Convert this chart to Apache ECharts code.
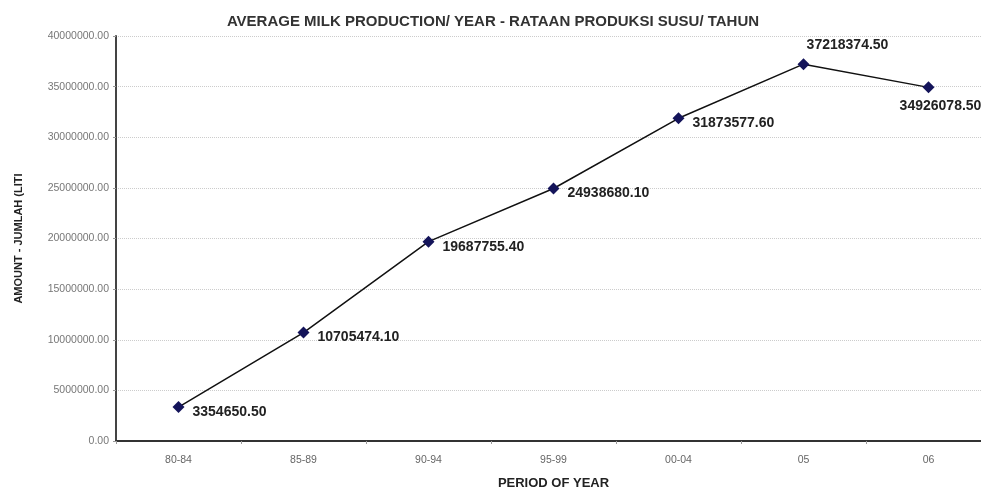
<!DOCTYPE html>
<html>
<head>
<meta charset="utf-8">
<title>Average milk production</title>
<script src="https://cdn.jsdelivr.net/npm/echarts@6/dist/echarts.min.js"></script>
<style>
  html, body { margin: 0; padding: 0; background: #fff; }
</style>
</head>
<body>
<div id="main" style="width:981px;height:491px;"></div>
<script type="text/javascript">
// categories and values
var periods = ['80-84', '85-89', '90-94', '95-99', '00-04', '05', '06'];
var amounts = [3354650.50, 10705474.10, 19687755.40, 24938680.10, 31873577.60, 37218374.50, 34926078.50];

var myChart = echarts.init(document.getElementById('main'));

var labelPos = function (i) {
  if (i === 5) return { position: 'top', offset: [44, 2] };
  if (i === 6) return { position: 'bottom', offset: [12, -2] };
  return { position: 'right', offset: [0, 5] };
};

var seriesData = amounts.map(function (v, i) {
  var p = labelPos(i);
  return { value: v, label: { position: p.position, offset: p.offset } };
});

var option = {
  animation: false,
  title: {
    text: 'AVERAGE MILK PRODUCTION/ YEAR - RATAAN PRODUKSI SUSU/ TAHUN',
    left: 488,
    textAlign: 'center',
    top: 9,
    textStyle: { fontFamily: 'Liberation Sans', fontSize: 15, fontWeight: 'bold', color: '#333' }
  },
  grid: { left: 116, top: 36, width: 875, height: 405, outerBoundsMode: 'none', containLabel: false },
  xAxis: {
    type: 'category',
    data: periods,
    boundaryGap: true,
    name: 'PERIOD OF YEAR',
    nameLocation: 'middle',
    nameGap: 36,
    nameTextStyle: { fontFamily: 'Liberation Sans', fontSize: 13, fontWeight: 'bold', color: '#222' },
    axisLine: { lineStyle: { color: '#333', width: 2 } },
    axisTick: { show: true, length: 3, lineStyle: { color: '#999' } },
    axisLabel: { fontFamily: 'Liberation Sans', fontSize: 10.5, color: '#666', margin: 14 }
  },
  yAxis: {
    type: 'value',
    min: 0,
    max: 40000000,
    interval: 5000000,
    name: 'AMOUNT - JUMLAH (LITI',
    nameLocation: 'middle',
    nameRotate: 90,
    nameGap: 92,
    nameTextStyle: { fontFamily: 'Liberation Sans', fontSize: 11, fontWeight: 'bold', color: '#222' },
    axisLine: { show: true, lineStyle: { color: '#444', width: 2 } },
    axisTick: { show: true, length: 3, lineStyle: { color: '#999' } },
    axisLabel: {
      fontFamily: 'Liberation Sans', fontSize: 10.5, color: '#777', margin: 7,
      formatter: function (v) { return v.toFixed(2); }
    },
    splitLine: { lineStyle: { color: '#ccc', type: 'dotted', width: 1 } }
  },
  series: [{
    type: 'line',
    data: seriesData,
    symbol: 'diamond',
    symbolSize: 12,
    itemStyle: { color: '#14145a' },
    lineStyle: { color: '#111', width: 1.5 },
    label: {
      show: true,
      fontFamily: 'Liberation Sans', fontSize: 14, fontWeight: 'bold', color: '#222',
      distance: 8,
      formatter: function (p) { return p.value.toFixed(2); }
    }
  }]
};

myChart.setOption(option);
</script>
</body>
</html>
